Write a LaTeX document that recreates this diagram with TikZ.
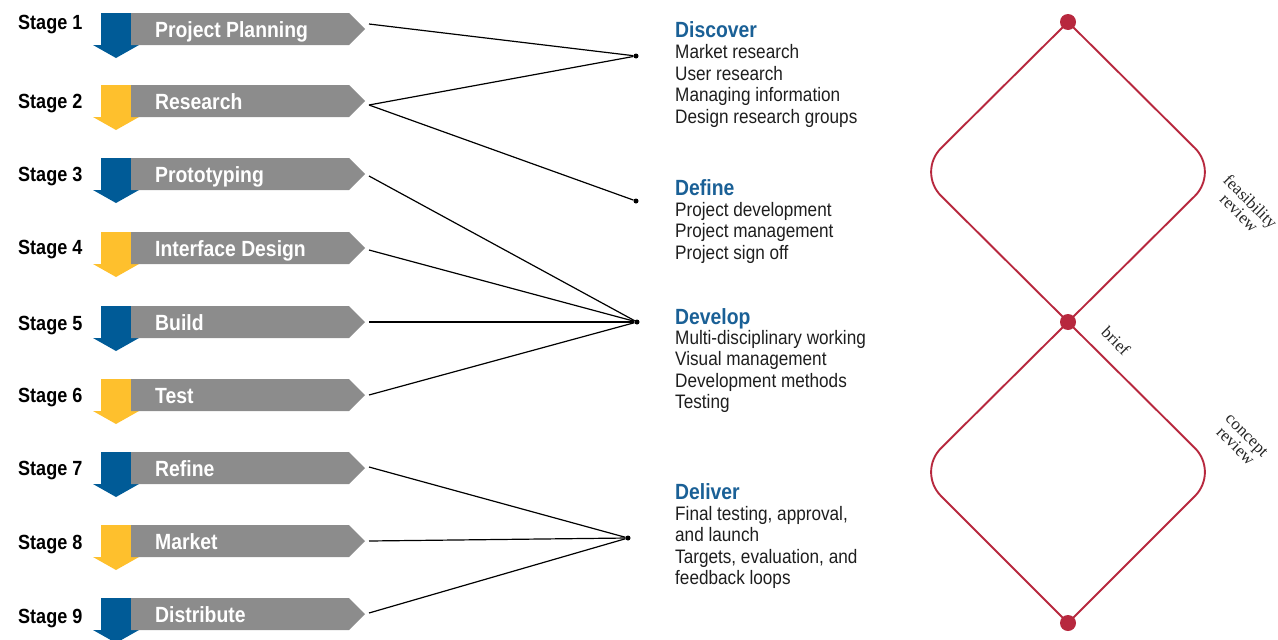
\documentclass[tikz,border=0pt]{standalone}
\usepackage{fontspec}
\newfontfamily\condfont[FakeStretch=0.88]{Liberation Sans}
\newfontfamily\notefont{Liberation Serif}
\usetikzlibrary{calc}
\definecolor{sblue}{RGB}{0,91,151}
\definecolor{syellow}{RGB}{254,192,45}
\definecolor{bgray}{RGB}{140,140,140}
\definecolor{hblue}{RGB}{26,96,150}
\definecolor{dred}{RGB}{183,40,62}
\definecolor{itemtext}{RGB}{30,30,30}
\begin{document}
\begin{tikzpicture}[x=1pt,y=-1pt,
  bannertext/.style={inner sep=0pt, text=white, font=\condfont\bfseries\fontsize{22}{26}\selectfont},
  stagelabel/.style={inner sep=0pt, text=black, font=\condfont\bfseries\fontsize{20.5}{24}\selectfont},
  heading/.style={inner sep=0pt, anchor=base west, text=hblue, font=\condfont\bfseries\fontsize{22}{26}\selectfont},
  item/.style={inner sep=0pt, anchor=base west, text=itemtext, font=\condfont\fontsize{19.5}{22}\selectfont},
  hub/.style={circle, fill=black, inner sep=0pt, minimum size=5pt},
  link/.style={draw=black, line width=1.2pt},
  rdot/.style={circle, fill=dred, inner sep=0pt, minimum size=16pt},
  redline/.style={draw=dred, line width=1.9pt, rounded corners=34pt},
  review/.style={inner sep=0pt, align=center, rotate=-45, font=\notefont\fontsize{17}{16}\selectfont, text=black!85}
]
\useasboundingbox (0,0) rectangle (1278,640);

% stage rows: arrow, banner, labels and link start points
\foreach \i/\yc/\ly/\sy/\col/\txt in {
  1/29/22/24/sblue/Project Planning,
  2/101/101/105/syellow/Research,
  3/174/174/176/sblue/Prototyping,
  4/248/247/250/syellow/Interface Design,
  5/322/323/322/sblue/Build,
  6/395/395/395/syellow/Test,
  7/468/468/467/sblue/Refine,
  8/541/542/541/syellow/Market,
  9/614/616/613/sblue/Distribute}{
  \fill[\col] (101,\yc-16) -- (131,\yc-16) -- (131,\yc+16) -- (139,\yc+16)
     -- (116,\yc+29) -- (93,\yc+16) -- (101,\yc+16) -- cycle;
  \fill[bgray] (131,\yc-16) -- (349,\yc-16) -- (365,\yc) -- (349,\yc+16)
     -- (131,\yc+16) -- cycle;
  \node[bannertext, anchor=base west] (t\i) at (155,\yc+8) {\txt};
  \node[stagelabel, anchor=base west] (s\i) at (18,\ly+7.5) {Stage \i};
  \coordinate (e\i) at (369,\sy);
}

% convergence points
\node[hub] (hdiscover) at (636,56) {};
\node[hub] (hdefine) at (636,201) {};
\node[hub] (hdevelop) at (637,322) {};
\node[hub] (hdeliver) at (628,538) {};

\draw[link] (e1) -- (hdiscover);
\draw[link] (e2) -- (hdiscover);
\draw[link] (e2) -- (hdefine);
\draw[link] (e3) -- (hdevelop);
\draw[link] (e4) -- (hdevelop);
\draw[link] (e5) -- (hdevelop);
\draw[link] (e6) -- (hdevelop);
\draw[link] (e7) -- (hdeliver);
\draw[link] (e8) -- (hdeliver);
\draw[link] (e9) -- (hdeliver);

% phase descriptions
\node[heading] (discover) at (675,37) {Discover};
\node[item] (d1) at (675,58) {Market research};
\node[item] (d2) at (675,80) {User research};
\node[item] (d3) at (675,101) {Managing information};
\node[item] (d4) at (675,123) {Design research groups};

\node[heading] (define) at (675,195) {Define};
\node[item] (f1) at (675,216) {Project development};
\node[item] (f2) at (675,237) {Project management};
\node[item] (f3) at (675,259) {Project sign off};

\node[heading] (develop) at (675,324) {Develop};
\node[item] (v1) at (675,344) {Multi-disciplinary working};
\node[item] (v2) at (675,365) {Visual management};
\node[item] (v3) at (675,387) {Development methods};
\node[item] (v4) at (675,408) {Testing};

\node[heading] (deliver) at (675,499) {Deliver};
\node[item] (l1) at (675,520) {Final testing, approval,};
\node[item] (l2) at (675,541) {and launch};
\node[item] (l3) at (675,563) {Targets, evaluation, and};
\node[item] (l4) at (675,584) {feedback loops};

% double diamond
\coordinate (dtop) at (1068,22);
\coordinate (dmid) at (1068,322);
\coordinate (dbot) at (1068,623);
\draw[redline] (dtop) -- (1219,172) -- (dmid);
\draw[redline] (dtop) -- (917,172) -- (dmid);
\draw[redline] (dmid) -- (1219,472) -- (dbot);
\draw[redline] (dmid) -- (917,472) -- (dbot);
\node[rdot] (ptop) at (dtop) {};
\node[rdot] (pmid) at (dmid) {};
\node[rdot] (pbot) at (dbot) {};

\node[review] (feas) at (1245,207) {feasibility\\review};
\node[review] (brief) at (1116,341) {brief};
\node[review] (concept) at (1241,441) {concept\\review};
\end{tikzpicture}
\end{document}
